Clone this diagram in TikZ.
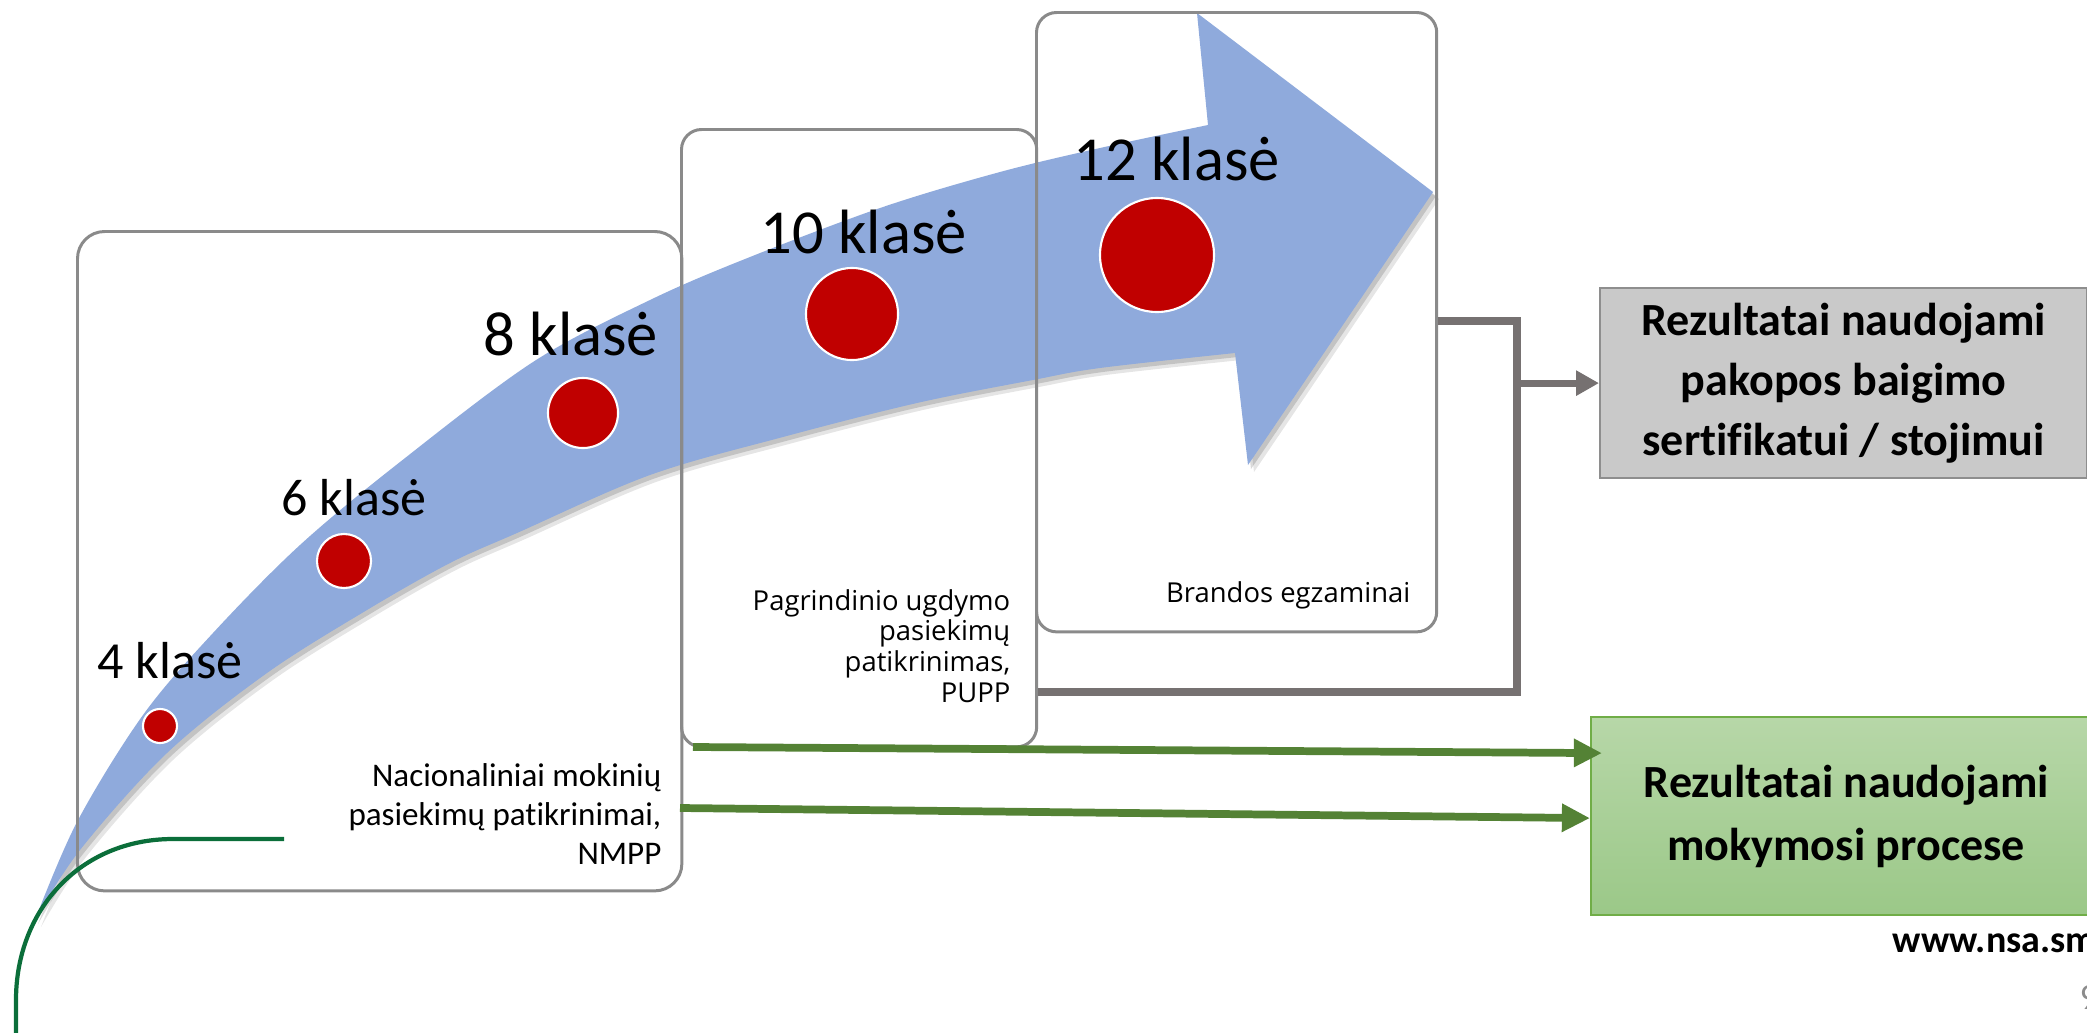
\documentclass[tikz,border=0pt]{standalone}
\usepackage{fontspec}
\setmainfont{Carlito}[Ligatures=NoCommon]
\newfontfamily\opensans{Open Sans}
\usetikzlibrary{positioning,arrows.meta}

\definecolor{bandblue}{HTML}{8FAADC}
\definecolor{dotred}{HTML}{C00000}
\definecolor{framegray}{HTML}{8A8A8A}
\definecolor{linkgray}{HTML}{767171}
\definecolor{linkgreen}{HTML}{548235}
\definecolor{certfill}{HTML}{C9C9C9}
\definecolor{certedge}{HTML}{8E8E8E}
\definecolor{learntop}{HTML}{B7D7A8}
\definecolor{learnbot}{HTML}{9BC888}
\definecolor{learnedge}{HTML}{70AD47}
\definecolor{swoosh}{HTML}{0B6E3A}
\definecolor{pagegray}{HTML}{8C8C8C}

\tikzset{
  stage/.style={draw=framegray, line width=0.85pt, anchor=north west, inner sep=0pt},
  dot/.style={circle, fill=dotred, draw=white, line width=0.6pt, inner sep=0pt},
  gradelabel/.style={anchor=base west, inner sep=0pt},
  smallnote/.style={align=right, anchor=east, inner sep=0pt},
  resultbox/.style={anchor=north west, inner sep=0pt, align=center, line width=0.6pt,
    font=\bfseries\fontsize{13.1}{17}\selectfont},
  graylink/.style={draw=linkgray, line width=2pt},
  greenlink/.style={draw=linkgreen, line width=2.2pt, -{Triangle[length=8pt, width=7.6pt]}},
}

% the curved blue arrow
\newcommand{\bandpath}{plot[smooth, tension=0.55] coordinates {(35,920) (77,822) (143,715) (213,633) (300,545) (400,462) (533,362) (650,300) (750,257) (883,207) (1000,172) (1100,148) (1208,125)}
  -- (1197,13) -- (1433,192) -- (1248,465)
  -- plot[smooth, tension=0.55] coordinates {(1235,353) (1100,368) (1033,380) (917,403) (783,437) (650,475) (517,533) (450,563) (367,610) (267,673) (167,753) (80,850) (35,920)} -- cycle}

\begin{document}
\begin{tikzpicture}[x=0.01cm, y=-0.01cm]
\useasboundingbox (0,0) rectangle (2087,1033);
\clip (0,0) rectangle (2087,1033);

% arrow with its shadow
\fill[black, opacity=0.10, shift={(6,7)}] \bandpath;
\fill[black, opacity=0.15, shift={(3,4)}] \bandpath;
\fill[bandblue] \bandpath;

% stage frames
\node[stage, rounded corners=7.7pt, minimum width=6.04cm, minimum height=6.59cm] (nmpp) at (76,230) {};
\node[stage, rounded corners=5.7pt, minimum width=3.55cm, minimum height=6.17cm] (pupp) at (680,128) {};
\node[stage, rounded corners=5.7pt, minimum width=4.00cm, minimum height=6.19cm] (brandos) at (1035,11) {};

% result boxes
\node[resultbox, fill=certfill, draw=certedge, minimum width=4.87cm, minimum height=1.90cm] (cert) at (1599,287)
  {Rezultatai naudojami\\pakopos baigimo\\sertifikatui / stojimui};
\node[resultbox, top color=learntop, bottom color=learnbot, draw=learnedge, minimum width=5.10cm, minimum height=1.98cm,
  font=\bfseries\fontsize{13.1}{18}\selectfont] (learn) at (1590,716)
  {Rezultatai naudojami\\mokymosi procese};

% gray connector
\coordinate (jtop) at (1517,321);
\coordinate (jbot) at (1517,692);
\draw[graylink] (brandos.east |- jtop) -- (jtop) -- (jbot) -- (pupp.east |- jbot);
\draw[graylink, -{Triangle[length=6.5pt, width=6.8pt]}] (jtop |- cert.west) -- (cert.west);

% green connectors
\coordinate (up0) at (693,747);
\coordinate (lo0) at (680,808);
\draw[greenlink] (up0) -- ([shift={(12,-63)}]learn.west);
\draw[greenlink] (lo0) -- ([shift={(0,2)}]learn.west);

% green swoosh
\draw[swoosh, line width=1.2pt] (284,839) -- (173,839) .. controls (80,839) and (16,910) .. (16,1000) -- (16,1040);

% grade dots
\node[dot, minimum size=0.34cm] (d4) at (160,726) {};
\node[dot, minimum size=0.54cm] (d6) at (344,561) {};
\node[dot, minimum size=0.70cm] (d8) at (583,413) {};
\node[dot, minimum size=0.92cm] (d10) at (852,314) {};
\node[dot, minimum size=1.14cm] (d12) at (1157,255) {};

% grade labels
\node[gradelabel, font=\fontsize{14.8}{17}\selectfont] (l4) at (97,678) {4 klasė};
\node[gradelabel, font=\fontsize{14.8}{17}\selectfont] (l6) at (281,515) {6 klasė};
\node[gradelabel, font=\fontsize{17.8}{20}\selectfont] (l8) at (483,355) {8 klasė};
\node[gradelabel, font=\fontsize{17.8}{20}\selectfont] (l10) at (760,253) {10 klasė};
\node[gradelabel, font=\fontsize{17.8}{20}\selectfont] (l12) at (1073,180) {12 klasė};

% stage notes
\node[smallnote, font=\fontsize{9.4}{11.1}\selectfont] (nmppnote) at (662,814)
  {Nacionaliniai mokinių\\pasiekimų patikrinimai,\\NMPP};
\node[smallnote, font=\opensans\fontsize{7.8}{8.7}\selectfont] (puppnote) at (1011,646)
  {Pagrindinio ugdymo\\pasiekimų\\patikrinimas,\\PUPP};
\node[smallnote, font=\opensans\fontsize{7.8}{8.7}\selectfont] (brandosnote) at (1411,595) {Brandos egzaminai};

% footer
\node[anchor=base west, inner sep=0pt, font=\bfseries\fontsize{10.8}{13}\selectfont] (site) at (1892,952) {www.nsa.sm};
\node[anchor=base west, inner sep=0pt, text=pagegray, font=\fontsize{10.5}{12}\selectfont] (page) at (2079,1009) {9};
\end{tikzpicture}
\end{document}
